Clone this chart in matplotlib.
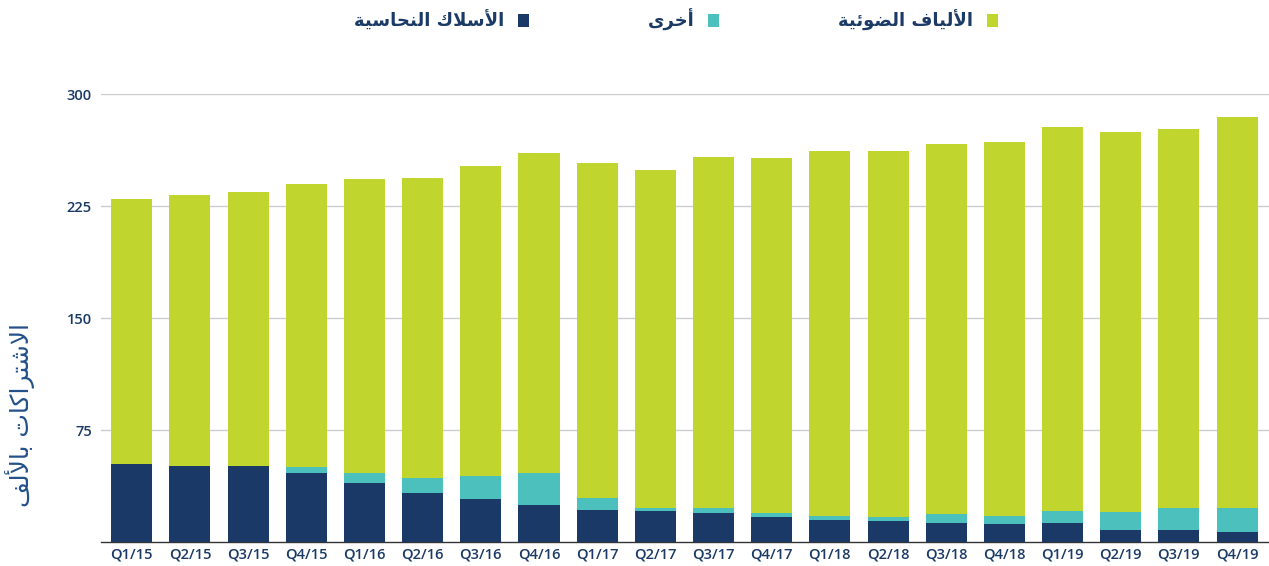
import matplotlib
matplotlib.use("Agg")
import matplotlib.pyplot as plt
import numpy as np

quarters = ["Q1/15", "Q2/15", "Q3/15", "Q4/15", "Q1/16", "Q2/16", "Q3/16", "Q4/16",
            "Q1/17", "Q2/17", "Q3/17", "Q4/17", "Q1/18", "Q2/18", "Q3/18", "Q4/18",
            "Q1/19", "Q2/19", "Q3/19", "Q4/19"]
copper = [52.0, 50.9, 50.9, 46.0, 39.5, 32.6, 28.6, 24.6, 21.6, 21.0,
          19.6, 16.7, 14.7, 13.8, 12.9, 11.8, 12.9, 8.0, 8.0, 6.9]
other = [0.0, 0.0, 0.0, 4.0, 6.5, 10.5, 15.4, 21.4, 8.1, 1.8,
         3.2, 2.9, 2.9, 2.9, 6.1, 5.8, 7.9, 11.9, 14.8, 15.9]
fiber = [177.7, 181.5, 183.7, 189.9, 197.1, 200.9, 207.8, 214.7, 224.3, 226.3,
         235.0, 237.3, 244.2, 245.1, 247.7, 250.1, 256.9, 254.9, 253.8, 261.8]
yticks = [75, 150, 225, 300]

label_fiber = "الألياف الضوئية"
label_other = "أخرى"
label_copper = "الأسلاك النحاسية"
ylabel_text = "الاشتراكات بالألف"

# --- minimal Arabic shaping (presentation forms) + visual reordering ---
FORMS = {
    'ا': ('\uFE8D', '\uFE8E', None, None),
    'أ': ('\uFE83', '\uFE84', None, None),
    'إ': ('\uFE87', '\uFE88', None, None),
    'آ': ('\uFE81', '\uFE82', None, None),
    'ل': ('\uFEDD', '\uFEDE', '\uFEDF', '\uFEE0'),
    'ي': ('\uFEF1', '\uFEF2', '\uFEF3', '\uFEF4'),
    'ف': ('\uFED1', '\uFED2', '\uFED3', '\uFED4'),
    'ض': ('\uFEBD', '\uFEBE', '\uFEBF', '\uFEC0'),
    'و': ('\uFEED', '\uFEEE', None, None),
    'ئ': ('\uFE89', '\uFE8A', '\uFE8B', '\uFE8C'),
    'ة': ('\uFE93', '\uFE94', None, None),
    'خ': ('\uFEA5', '\uFEA6', '\uFEA7', '\uFEA8'),
    'ر': ('\uFEAD', '\uFEAE', None, None),
    'ى': ('\uFEEF', '\uFEF0', None, None),
    'س': ('\uFEB1', '\uFEB2', '\uFEB3', '\uFEB4'),
    'ك': ('\uFED9', '\uFEDA', '\uFEDB', '\uFEDC'),
    'ن': ('\uFEE5', '\uFEE6', '\uFEE7', '\uFEE8'),
    'ح': ('\uFEA1', '\uFEA2', '\uFEA3', '\uFEA4'),
    'ش': ('\uFEB5', '\uFEB6', '\uFEB7', '\uFEB8'),
    'ت': ('\uFE95', '\uFE96', '\uFE97', '\uFE98'),
    'ب': ('\uFE8F', '\uFE90', '\uFE91', '\uFE92'),
}
LAMALEF = {'ا': ('\uFEFB', '\uFEFC', None, None),
           'أ': ('\uFEF7', '\uFEF8', None, None),
           'إ': ('\uFEF9', '\uFEFA', None, None),
           'آ': ('\uFEF5', '\uFEF6', None, None)}


def shape(s):
    toks = []
    i = 0
    while i < len(s):
        c = s[i]
        if c == 'ل' and i + 1 < len(s) and s[i + 1] in LAMALEF:
            toks.append(LAMALEF[s[i + 1]])
            i += 2
            continue
        toks.append(FORMS.get(c, c))
        i += 1
    out = []
    for k, t in enumerate(toks):
        if isinstance(t, str):
            out.append(t)
            continue
        prev = toks[k - 1] if k > 0 else None
        nxt = toks[k + 1] if k + 1 < len(toks) else None
        jp = isinstance(prev, tuple) and prev[2] is not None
        jn = t[2] is not None and isinstance(nxt, tuple)
        if jp and jn:
            out.append(t[3])
        elif jp:
            out.append(t[1])
        elif jn:
            out.append(t[2])
        else:
            out.append(t[0])
    return ''.join(reversed(out))


navy = "#1b3966"
teal = "#4cc0bd"
green = "#c1d52f"
text_col = "#1b3a66"

fig = plt.figure(figsize=(12.69, 5.66), dpi=100)
ax = fig.add_axes([101 / 1269, 24 / 566, 1 - 101 / 1269, 448 / 566])

x = np.arange(len(quarters))
bottom2 = np.array(copper)
bottom3 = bottom2 + np.array(other)
w = 0.705
b1 = ax.bar(x, copper, width=w, color=navy, zorder=3)
b2 = ax.bar(x, other, width=w, bottom=bottom2, color=teal, zorder=3)
b3 = ax.bar(x, fiber, width=w, bottom=bottom3, color=green, zorder=3)

ax.set_xlim(-0.53, len(quarters) - 1 + 0.55)
ax.set_ylim(0, 300)
ax.set_yticks(yticks)
ax.set_xticks(x)
ax.set_xticklabels(quarters)
ax.yaxis.grid(True, color="#cccccc", linewidth=1.0, zorder=0)
ax.set_axisbelow(True)
for s in ["top", "right", "left"]:
    ax.spines[s].set_visible(False)
ax.spines["bottom"].set_color("#333333")
ax.spines["bottom"].set_linewidth(1.0)
ax.tick_params(axis="both", length=0)
ax.tick_params(axis="y", pad=6.5)
ax.tick_params(axis="x", pad=4)
for lab in ax.get_xticklabels() + ax.get_yticklabels():
    lab.set_fontfamily("Open Sans")
    lab.set_fontweight("semibold")
    lab.set_fontsize(10.5)
    lab.set_color(text_col)

fig.text(20 / 1269, 1 - 415 / 566, shape(ylabel_text), rotation=90,
         ha="center", va="center", fontsize=18, color="#24508a",
         family=["DejaVu Sans"])

leg = fig.legend([b1, b2, b3], [shape(label_copper), shape(label_other), shape(label_fiber)],
                 loc="center", bbox_to_anchor=(676 / 1269, 1 - 20 / 566), ncol=3,
                 frameon=False, markerfirst=False, handlelength=0.6, handleheight=0.65,
                 handletextpad=0.75, columnspacing=6.6,
                 prop={"family": ["DejaVu Sans"], "weight": "bold", "size": 13})
for t in leg.get_texts():
    t.set_color(text_col)

fig.savefig("out.png", dpi=100)
